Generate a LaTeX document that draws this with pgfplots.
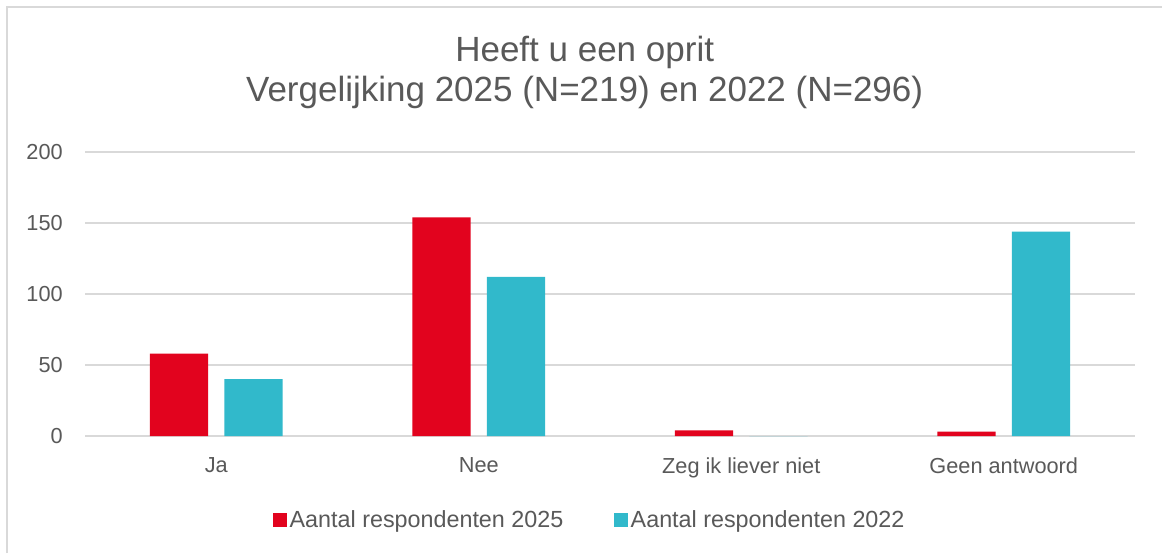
\documentclass[border=0pt]{standalone}
\usepackage{pgfplots}
\pgfplotsset{compat=1.18}
\usepackage{fontspec}
\setmainfont{Liberation Sans}
\definecolor{cred}{HTML}{E2031E}
\definecolor{cteal}{HTML}{31B9CB}
\definecolor{ctext}{HTML}{595959}
\definecolor{cgrid}{HTML}{D9D9D9}
\begin{document}
\begin{tikzpicture}
\path[use as bounding box] (0,0) rectangle (871.5pt,414.75pt);
\fill[white] (0,0) rectangle (871.5pt,414.75pt);
\draw[cgrid, line width=1.5pt] (5.25pt,0) -- (5.25pt,409.5pt) -- (871.5pt,409.5pt);
\node[anchor=base, text=ctext, font=\fontsize{26.25pt}{30pt}\selectfont, inner sep=0] at (438.5pt,368.25pt) {Heeft u een oprit};
\node[anchor=base, text=ctext, font=\fontsize{26.25pt}{30pt}\selectfont, inner sep=0] at (438.5pt,338.25pt) {Vergelijking 2025 (N=219) en 2022 (N=296)};
\begin{axis}[
  at={(63.75pt,87.75pt)}, anchor=south west,
  scale only axis, width=787.5pt, height=213pt,
  xmin=-0.5, xmax=3.5, ymin=0, ymax=200,
  xtick={0,1,2,3},
  xticklabels={Ja,Nee,Zeg ik liever niet,Geen antwoord},
  ytick={0,50,100,150,200},
  ymajorgrids, grid style={cgrid, line width=1pt},
  axis line style={draw=none},
  major tick length=0pt,
  tick label style={text=ctext, font=\fontsize{16.3pt}{19pt}\selectfont},
  yticklabel style={anchor=east, inner sep=0pt, xshift=-16.5pt},
  xticklabel style={anchor=north, inner sep=0pt, yshift=-16pt},
  /pgf/number format/assume math mode=true,
  legend columns=2,
  legend style={at={(0.481,-0.296)}, anchor=center, draw=none, fill=none,
    font=\fontsize{17.5pt}{20pt}\selectfont, text=ctext,
    /tikz/every even column/.append style={column sep=36pt},
    nodes={inner sep=2pt}},
  legend image code/.code={\fill[#1] (0pt,-5.25pt) rectangle (10.5pt,5.25pt);},
]
\addplot[ybar, bar width=0.2214, bar shift=-0.142, fill=cred, draw=none]
  coordinates {(0,58) (1,154) (2,4) (3,3)};
\addlegendentry{Aantal respondenten 2025}
\addplot[ybar, bar width=0.2214, bar shift=0.142, fill=cteal, draw=none]
  coordinates {(0,40) (1,112) (2,0) (3,144)};
\addlegendentry{Aantal respondenten 2022}
\end{axis}
\end{tikzpicture}
\end{document}
